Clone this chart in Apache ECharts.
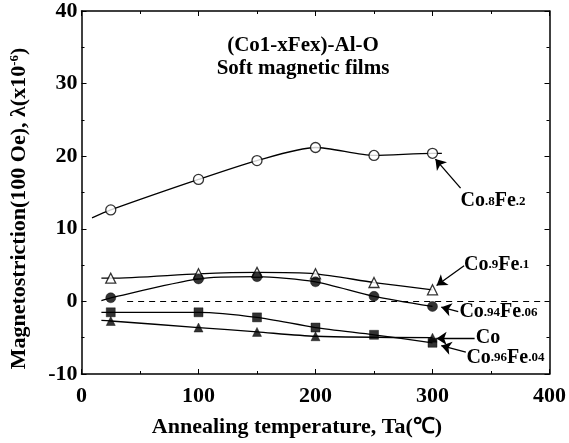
<!DOCTYPE html>
<html>
<head>
<meta charset="utf-8">
<script src="https://cdn.jsdelivr.net/npm/echarts@6/dist/echarts.min.js"></script>
<style>
  html, body { margin: 0; padding: 0; background: #fff; }
  #chart { width: 569px; height: 443px; }
</style>
</head>
<body>
<div id="chart"></div>
<script>
// Annealing temperatures (°C) at which each film was measured
const temps = [25, 100, 150, 200, 250, 300];

// Magnetostriction λ (x10^-6) measured at 100 Oe
const co8fe2   = [12.6, 16.8, 19.4, 21.2, 20.1, 20.4];
const co9fe1   = [3.2, 3.8, 4.0, 3.8, 2.6, 1.6];
const co94fe06 = [0.5, 3.1, 3.4, 2.7, 0.7, -0.7];
const co96fe04 = [-1.5, -1.5, -2.2, -3.6, -4.6, -5.7];
const coPure   = [-2.7, -3.6, -4.2, -4.8, null, -5.0];

// Where each guide curve starts (a short lead-in before the first sample)
const leadT = [9, 17, 17, 17, 17];
const leadV = [11.5, 3.2, 0.1, -1.5, -2.6];
// Co.8Fe.2 guide curve runs on a little past its last sample
const tailT = [308];
const tailV = [20.4];

const xTicks = [0, 100, 200, 300, 400];
const yTicks = [-10, 0, 10, 20, 30, 40];

const FONT = '"Liberation Serif", "Times New Roman", serif';
const INK = '#000';

function pairs(vals) {
  const out = [];
  temps.forEach((t, i) => { if (vals[i] !== null) out.push([t, vals[i]]); });
  return out;
}

const films = [
  { name: 'Co.8Fe.2',   vals: co8fe2,   symbol: 'circle',   open: true,  size: 10 },
  { name: 'Co.9Fe.1',   vals: co9fe1,   symbol: 'triangle', open: true,  size: 10 },
  { name: 'Co.94Fe.06', vals: co94fe06, symbol: 'circle',   open: false, size: 10 },
  { name: 'Co.96Fe.04', vals: co96fe04, symbol: 'rect',     open: false, size: 9 },
  { name: 'Co',         vals: coPure,   symbol: 'triangle', open: false, size: 9 }
];

const series = [];
films.forEach((f, k) => {
  const curve = [[leadT[k], leadV[k]]].concat(pairs(f.vals));
  if (k === 0) curve.push([tailT[0], tailV[0]]);
  series.push({
    type: 'line',
    name: f.name + ' curve',
    data: curve,
    smooth: 0.25,
    showSymbol: false,
    silent: true,
    z: 2,
    lineStyle: { color: INK, width: 1.3 }
  });
  series.push({
    type: 'scatter',
    name: f.name,
    data: pairs(f.vals),
    symbol: f.symbol,
    symbolSize: f.size,
    z: 4,
    itemStyle: {
      color: f.open ? '#fff' : INK,
      borderColor: INK,
      borderWidth: f.open ? 1.3 : 0.5
    }
  });
});

// Label text with the small composition numbers
const rich = {
  b: { fontFamily: FONT, fontWeight: 'bold', fontSize: 20, color: INK, lineHeight: 22 },
  s: { fontFamily: FONT, fontWeight: 'bold', fontSize: 13, color: INK, lineHeight: 22 }
};
const tags = [
  { at: [324, 13.8], text: '{b|Co}{s|.8}{b|Fe}{s|.2}',   from: [324, 15.6], to: [302.5, 19.6] },
  { at: [327, 5.0],  text: '{b|Co}{s|.9}{b|Fe}{s|.1}',   from: [327, 4.9],  to: [303.5, 2.2] },
  { at: [323, -1.5], text: '{b|Co}{s|.94}{b|Fe}{s|.06}', from: [322, -1.4], to: [307.5, -0.8] },
  { at: [337, -5.0], text: '{b|Co}',                     from: [336, -5.1], to: [303.5, -5.1] },
  { at: [329, -7.8], text: '{b|Co}{s|.96}{b|Fe}{s|.04}', from: [328.5, -7.0], to: [307.5, -6.1] }
];

series.push({
  type: 'line',
  name: 'notes',
  data: [],
  silent: true,
  markLine: {
    silent: true,
    animation: false,
    symbol: ['none', 'none'],
    label: { show: false },
    lineStyle: { color: INK, width: 1.2, type: [6, 5] },
    data: [[{ coord: [39, 0] }, { coord: [398, 0] }]]
  },
  markPoint: {
    silent: true,
    animation: false,
    symbol: 'circle',
    symbolSize: 0,
    data: tags.map(t => ({
      coord: t.at,
      label: { show: true, position: 'right', distance: 0, formatter: t.text, rich: rich }
    }))
  }
});

series.push({
  type: 'line',
  name: 'pointers',
  data: [],
  silent: true,
  markLine: {
    silent: true,
    animation: false,
    symbol: ['none', 'arrow'],
    symbolSize: 10,
    label: { show: false },
    lineStyle: { color: INK, width: 1.3, type: 'solid' },
    data: tags.map(t => [{ coord: t.from }, { coord: t.to }])
  }
});

const tickLabel = { fontFamily: FONT, fontWeight: 'bold', fontSize: 22, color: INK };
const frameLine = { show: true, onZero: false, lineStyle: { color: INK, width: 1.5 } };
const innerTick = { show: true, inside: true, length: 5, lineStyle: { color: INK } };
const innerMinor = { show: true, splitNumber: 2, length: 3, lineStyle: { color: INK } };

const chart = echarts.init(document.getElementById('chart'), null, { renderer: 'canvas' });
chart.setOption({
  backgroundColor: '#fff',
  animation: false,
  grid: { left: 78, right: 16, top: 6, bottom: 68, show: false },
  graphic: [{
    type: 'text',
    x: 303,
    y: 34,
    style: {
      text: '(Co1-xFex)-Al-O\nSoft magnetic films',
      fontFamily: FONT,
      fontWeight: 'bold',
      fontSize: 21,
      lineHeight: 23,
      fill: INK,
      align: 'center'
    }
  }],
  xAxis: [{
    type: 'value',
    min: 0, max: 400, interval: 100,
    name: 'Annealing temperature, Ta(℃)',
    nameLocation: 'middle',
    nameGap: 42,
    nameTextStyle: { fontFamily: FONT, fontWeight: 'bold', fontSize: 22, color: INK, padding: [0, 37, 0, 0] },
    axisLine: frameLine,
    axisTick: innerTick,
    minorTick: innerMinor,
    axisLabel: Object.assign({ margin: 11, formatter: v => xTicks.includes(v) ? String(v) : '' }, tickLabel),
    splitLine: { show: false }
  }, {
    type: 'value',
    position: 'top',
    min: 0, max: 400, interval: 100,
    axisLine: frameLine,
    axisTick: innerTick,
    minorTick: innerMinor,
    axisLabel: { show: false },
    splitLine: { show: false }
  }],
  yAxis: [{
    type: 'value',
    min: -10, max: 40, interval: 10,
    name: '{n|Magnetostriction(100 Oe), λ(x10}{p|-6}{n|)}',
    nameLocation: 'middle',
    nameGap: 50,
    nameTextStyle: {
      padding: [0, 32, 0, 0],
      rich: {
        n: { fontFamily: FONT, fontWeight: 'bold', fontSize: 22, color: INK, lineHeight: 24 },
        p: { fontFamily: FONT, fontWeight: 'bold', fontSize: 13, color: INK, lineHeight: 24, padding: [0, 0, 10, 0] }
      }
    },
    axisLine: frameLine,
    axisTick: innerTick,
    minorTick: innerMinor,
    axisLabel: Object.assign({ margin: 4, formatter: v => yTicks.includes(v) ? String(v) : '' }, tickLabel),
    splitLine: { show: false }
  }, {
    type: 'value',
    position: 'right',
    min: -10, max: 40, interval: 10,
    axisLine: frameLine,
    axisTick: innerTick,
    minorTick: innerMinor,
    axisLabel: { show: false },
    splitLine: { show: false }
  }],
  series: series
});
</script>
</body>
</html>
